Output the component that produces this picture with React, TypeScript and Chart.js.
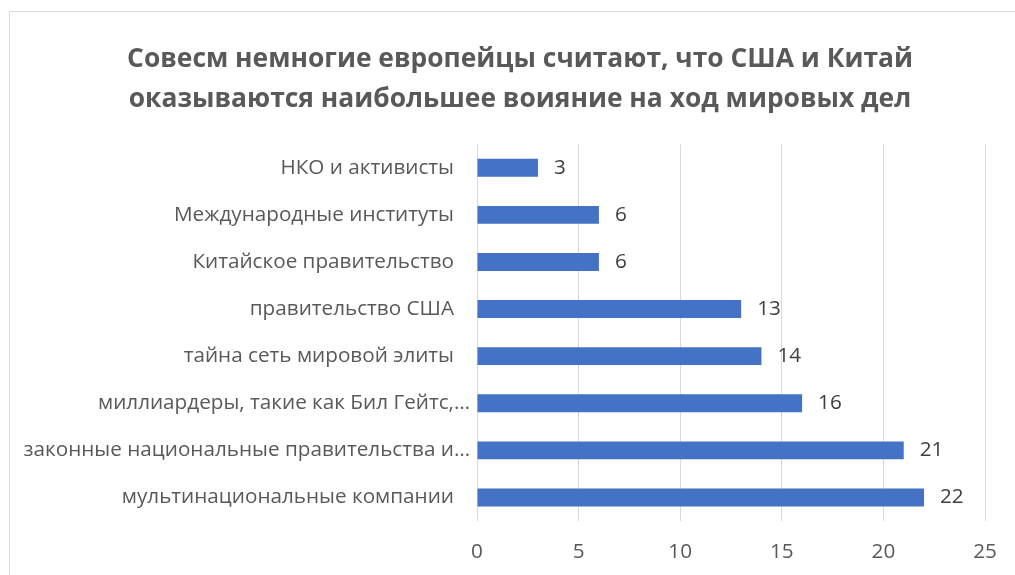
import React, { useEffect, useRef } from "react";
import { Chart, registerables } from "chart.js";

Chart.register(...registerables);

const titleLines = [
  "Совесм немногие европейцы считают, что США и Китай",
  "оказываются наибольшее воияние на ход мировых дел",
];

const categories = [
  "НКО и активисты",
  "Международные институты",
  "Китайское правительство",
  "правительство США",
  "тайна сеть мировой элиты",
  "миллиардеры, такие как Бил Гейтс,…",
  "законные национальные правительства и…",
  "мультинациональные компании",
];

const values = [3, 6, 6, 13, 14, 16, 21, 22];

const xMin = 0;
const xMax = 25;
const xStep = 5;

const FONT = "'Open Sans', sans-serif";
const LABEL_SIZE = 20.7;

export default function App() {
  const canvasRef = useRef<HTMLCanvasElement | null>(null);

  useEffect(() => {
    const canvas = canvasRef.current;
    if (!canvas) return;

    const labelPlugin = {
      id: "customLabels",
      afterDraw(chart: any) {
        const ctx = chart.ctx;
        const yScale = chart.scales.y;
        const area = chart.chartArea;
        ctx.save();
        ctx.font = `${LABEL_SIZE}px ${FONT}`;
        ctx.textBaseline = "middle";
        // category labels
        ctx.fillStyle = "#595959";
        ctx.textAlign = "right";
        categories.forEach((c, i) => {
          const py = yScale.getPixelForValue(i);
          const gap = c.endsWith("…") ? 7 : 23;
          ctx.fillText(c, area.left - gap, py);
        });
        // data labels
        ctx.fillStyle = "#404040";
        ctx.textAlign = "left";
        const meta = chart.getDatasetMeta(0);
        meta.data.forEach((bar: any, i: number) => {
          ctx.fillText(String(values[i]), bar.x + 16, bar.y);
        });
        ctx.restore();
      },
    };

    const chart = new Chart(canvas, {
      type: "bar",
      data: {
        labels: categories,
        datasets: [
          {
            data: values,
            backgroundColor: "#4472C4",
            borderWidth: 0,
            barPercentage: 0.38,
            categoryPercentage: 1,
          },
        ],
      },
      options: {
        indexAxis: "y",
        responsive: false,
        maintainAspectRatio: false,
        animation: false,
        devicePixelRatio: 1,
        layout: { padding: { left: 0, right: 0, top: 0, bottom: 0 } },
        plugins: {
          legend: { display: false },
          tooltip: { enabled: false },
          title: {
            display: true,
            text: titleLines,
            color: "#595959",
            font: { family: FONT, size: 26.4, weight: "bold", lineHeight: 1.5 },
            padding: { top: 28, bottom: 25 },
          },
        },
        scales: {
          x: {
            type: "linear",
            min: xMin,
            max: xMax,
            ticks: {
              stepSize: xStep,
              color: "#595959",
              font: { family: FONT, size: LABEL_SIZE },
              padding: 19,
            },
            grid: { color: "#d9d9d9", lineWidth: 1, drawTicks: false },
            border: { display: false },
            afterFit: (s: any) => {
              s.height = 54;
            },
          },
          y: {
            ticks: { display: false },
            grid: { display: false },
            border: { display: false },
            afterFit: (s: any) => {
              s.width = 467;
            },
          },
          yRightSpace: {
            type: "category",
            axis: "y",
            position: "right",
            labels: [""],
            ticks: { display: false },
            grid: { display: false },
            border: { display: false },
            afterFit: (s: any) => {
              s.width = 45;
            },
          },
        },
      },
      plugins: [labelPlugin],
    });

    return () => {
      chart.destroy();
    };
  }, []);

  return (
    <div
      style={{
        position: "fixed",
        left: 0,
        top: 0,
        width: 1015,
        height: 575,
        overflow: "hidden",
        background: "#ffffff",
      }}
    >
      <div
        style={{
          position: "absolute",
          left: 9,
          top: 11,
          width: 1022,
          height: 600,
          border: "1px solid #d9d9d9",
          boxSizing: "border-box",
          background: "#ffffff",
        }}
      >
        <canvas
          ref={canvasRef}
          width={1020}
          height={563}
          style={{ display: "block", width: 1020, height: 563 }}
        />
      </div>
    </div>
  );
}
